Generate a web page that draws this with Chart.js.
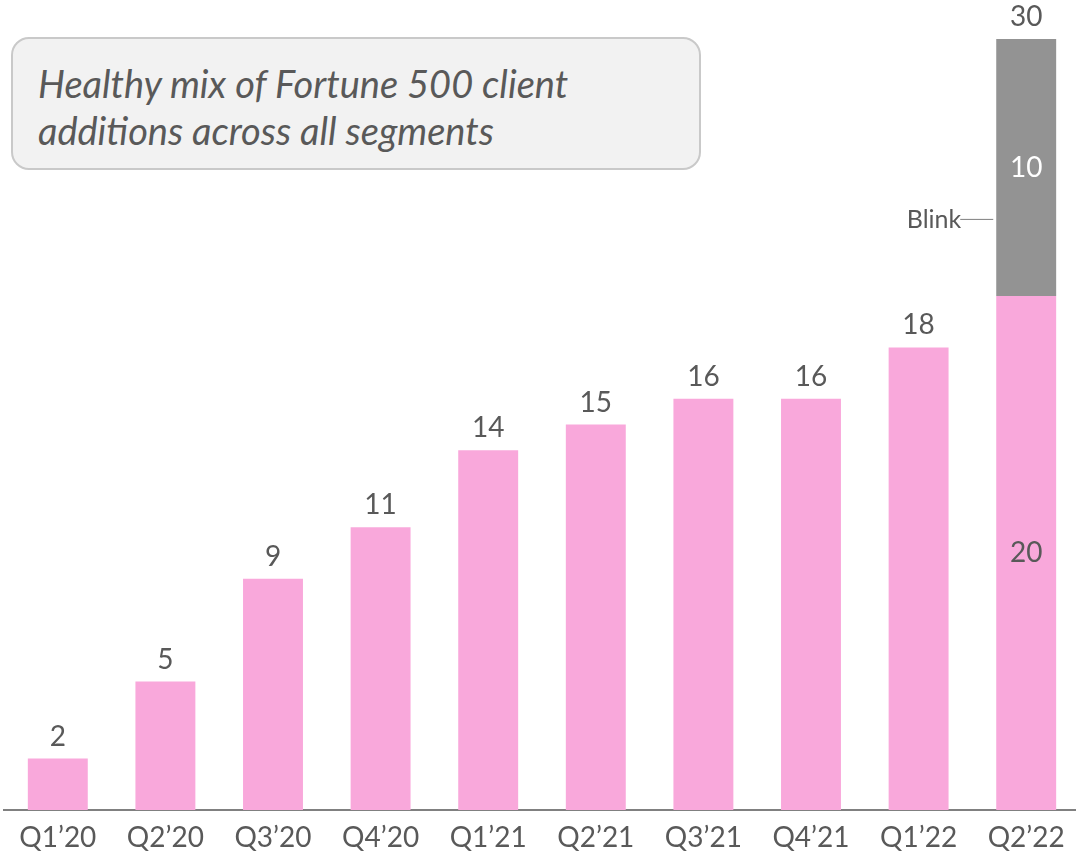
<!DOCTYPE html>
<html>
<head>
<meta charset="utf-8">
<script src="https://cdn.jsdelivr.net/npm/chart.js@4.4.0/dist/chart.umd.min.js"></script>
<style>
    html, body { margin: 0; padding: 0; background: #fff; overflow: hidden; }
    #wrap { position: relative; width: 1076px; height: 854px; overflow: hidden; }
    #chartBox { position: absolute; left: 0; top: 0; width: 1082px; height: 854px; }
    .callout {
        position: absolute; left: 11px; top: 37px; width: 690px; height: 133px;
        box-sizing: border-box; background: #f2f2f2; border: 2px solid #c9c9c9; border-radius: 18px;
        padding: 21px 0 0 25px; font-family: Lato, sans-serif; font-style: italic;
        font-size: 38px; line-height: 47px; color: #595959; white-space: nowrap;
    }
</style>
</head>
<body>
<div id="wrap">
    <div id="chartBox"><canvas id="barChart"></canvas></div>
    <div class="callout">Healthy mix of Fortune 500 client<br>additions across all segments</div>
</div>
<script>
const quarters = ["Q1\u201920", "Q2\u201920", "Q3\u201920", "Q4\u201920", "Q1\u201921", "Q2\u201921", "Q3\u201921", "Q4\u201921", "Q1\u201922", "Q2\u201922"];
const coreAdds = [2, 5, 9, 11, 14, 15, 16, 16, 18, 20];
const blinkAdds = [0, 0, 0, 0, 0, 0, 0, 0, 0, 10];
const blinkLabel = "Blink";
const blinkCalloutValue = 23;

const textColor = '#595959';
const pink = '#f9a8db';
const gray = '#939393';

// value labels: totals above, segment values inside the stacked bar
const labelPlugin = {
    id: 'labels',
    afterDatasetsDraw(chart) {
        const ctx = chart.ctx;
        const yScale = chart.scales.y;
        const core = chart.getDatasetMeta(0).data;
        const blink = chart.getDatasetMeta(1).data;
        ctx.save();
        ctx.font = '28px Lato';
        ctx.textAlign = 'center';
        ctx.textBaseline = 'middle';
        quarters.forEach((q, i) => {
            const total = coreAdds[i] + blinkAdds[i];
            const topY = yScale.getPixelForValue(total);
            ctx.fillStyle = textColor;
            ctx.fillText(String(total), core[i].x, topY - 22);
            if (blinkAdds[i] > 0) {
                const c = core[i], b = blink[i];
                ctx.fillStyle = textColor;
                ctx.fillText(String(coreAdds[i]), c.x, (c.y + c.base) / 2);
                ctx.fillStyle = '#ffffff';
                ctx.fillText(String(blinkAdds[i]), b.x, (b.y + b.base) / 2);

                // Blink callout
                const ly = yScale.getPixelForValue(blinkCalloutValue);
                const left = b.x - b.width / 2;
                ctx.strokeStyle = '#7f7f7f';
                ctx.lineWidth = 1;
                ctx.beginPath();
                ctx.moveTo(left - 36, ly + 0.5);
                ctx.lineTo(left - 3, ly + 0.5);
                ctx.stroke();
                ctx.font = '25px Lato';
                ctx.textAlign = 'right';
                ctx.fillStyle = textColor;
                ctx.fillText(blinkLabel, left - 35, ly + 1);
                ctx.font = '28px Lato';
                ctx.textAlign = 'center';
            }
        });
        ctx.restore();
    }
};

const ctx = document.getElementById('barChart').getContext('2d');
new Chart(ctx, {
    type: 'bar',
    data: {
        labels: quarters,
        datasets: [
            { label: 'Fortune 500', data: coreAdds, backgroundColor: pink, borderWidth: 0,
              barPercentage: 0.557, categoryPercentage: 1 },
            { label: blinkLabel, data: blinkAdds, backgroundColor: gray, borderWidth: 0,
              barPercentage: 0.557, categoryPercentage: 1 }
        ]
    },
    options: {
        responsive: true,
        maintainAspectRatio: false,
        animation: false,
        layout: { padding: { left: 4, right: 2, top: 39, bottom: 0 } },
        plugins: { legend: { display: false }, tooltip: { enabled: false } },
        scales: {
            x: {
                stacked: true,
                grid: { display: false, drawTicks: false },
                border: { display: true, color: '#808080', width: 2 },
                ticks: { color: textColor, font: { family: 'Lato', size: 28 }, padding: 11, maxRotation: 0 },
                afterFit: s => { s.height = 44; }
            },
            y: {
                stacked: true, display: false, min: 0, max: 30
            }
        }
    },
    plugins: [labelPlugin]
});
</script>
</body>
</html>
